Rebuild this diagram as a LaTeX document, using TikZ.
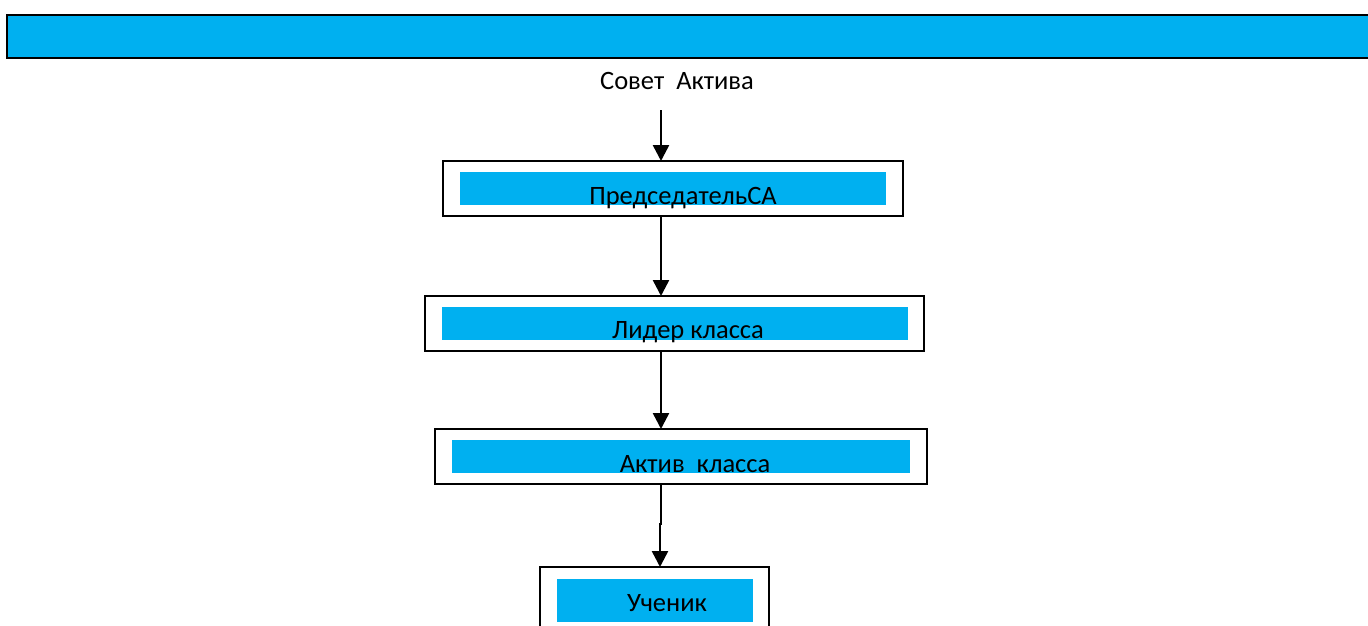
\documentclass[tikz,border=0pt]{standalone}
\usepackage{fontspec}
\setmainfont{Carlito}
\usetikzlibrary{arrows.meta}
\definecolor{skyb}{RGB}{0,176,240}
\tikzset{
  outerbox/.style={draw=black, line width=2pt, fill=white, inner sep=0pt},
  innerbox/.style={fill=skyb, draw=none, inner sep=0pt},
  lbl/.style={anchor=base, font=\fontsize{26.5pt}{30pt}\selectfont, inner sep=0pt},
  arr/.style={line width=2.5pt, -{Triangle[length=16pt,width=16pt]}}
}
\begin{document}
\begin{tikzpicture}[x=1pt,y=-1pt]
\useasboundingbox (0,0) rectangle (1368,626);
\clip (0,0) rectangle (1368,626);
% top bar
\path[draw=black, line width=2pt, fill=skyb] (7,15) rectangle (1380,58);
\node[lbl] (sovet) at (677,89) {Совет \ Актива};
% box 1
\path[outerbox] (443,161) rectangle (903,216);
\coordinate (b1n) at (661,161);
\coordinate (b1s) at (661,216);
\path[innerbox] (460,172) rectangle (886,205);
\node[lbl] (t1) at (683,204) {ПредседательСА};
% box 2
\path[outerbox] (425,296) rectangle (924,351);
\coordinate (b2n) at (661,296);
\coordinate (b2s) at (661,351);
\path[innerbox] (442,307) rectangle (908,340);
\node[lbl] (t2) at (688,338) {Лидер класса};
% box 3
\path[outerbox] (435,429) rectangle (927,484);
\coordinate (b3n) at (661,429);
\coordinate (b3s) at (661,484);
\path[innerbox] (452,440) rectangle (910,473);
\node[lbl] (t3) at (695,472) {Актив \ класса};
% box 4
\path[outerbox] (540,567) rectangle (769,650);
\coordinate (b4n) at (660,567);
\path[innerbox] (557,579) rectangle (753,622);
\node[lbl] (t4) at (667,611) {Ученик};
% arrows
\coordinate (s0) at (661,110);
\draw[arr] (s0) -- (b1n);
\draw[arr] (b1s) -- (b2n);
\draw[arr] (b2s) -- (b3n);
\coordinate (k0) at (661,525);
\draw[line width=2.5pt] (b3s) -- (k0);
\coordinate (k) at (660,523);
\draw[arr] (k) -- (b4n);
\end{tikzpicture}
\end{document}
